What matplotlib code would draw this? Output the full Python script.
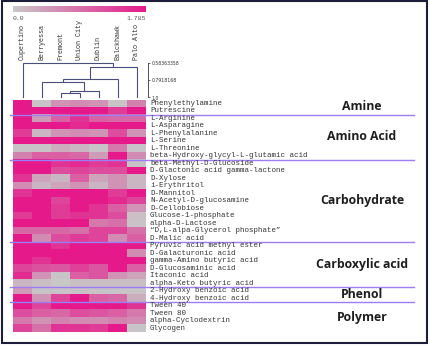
import numpy as np
import matplotlib
matplotlib.use("Agg")
import matplotlib.pyplot as plt
from matplotlib import transforms
from matplotlib.colors import LinearSegmentedColormap, Normalize
from matplotlib.cm import ScalarMappable
from matplotlib.patches import Rectangle
from matplotlib.lines import Line2D

sites = ["Cupertino", "Berryessa", "Fremont", "Union City", "Dublin", "Balckhawk", "Palo Alto"]

substrates = [
    "Phenylethylamine", "Putrescine",
    "L-Arginine", "L-Asparagine", "L-Phenylalanine", "L-Serine", "L-Threonine",
    "beta-Hydroxy-glycyl-L-glutamic acid",
    "beta-Methyl-D-Glucoside", "D-Glactonic acid gamma-lactone", "D-Xylose", "i-Erythritol",
    "D-Mannitol", "N-Acetyl-D-glucosamine", "D-Cellobiose", "Glucose-1-phosphate",
    "alpha-D-Lactose", "\u201cD,L-alpa-Glycerol phosphate\u201d", "D-Malic acid",
    "Pyruvic acid methyl ester", "D-Galacturonic acid", "gamma-Amino butyric acid",
    "D-Glucosaminic acid", "Itaconic acid", "alpha-Keto butyric acid",
    "2-Hydroxy benzoic acid", "4-Hydroxy benzoic acid",
    "Tween 40", "Tween 80", "alpha-Cyclodextrin", "Glycogen",
]

groups = ["Amine", "Amino Acid", "Carbohydrate", "Carboxylic acid", "Phenol", "Polymer"]
group_sizes = [2, 6, 11, 6, 2, 4]

# AWCD values per substrate (rows) and site (columns)
values = [
    [1.78, 0.05, 0.54, 0.62, 0.54, 0.05, 0.71],
    [1.78, 1.78, 1.78, 1.78, 1.78, 1.43, 1.78],
    [1.78, 0.45, 1.07, 1.52, 1.07, 0.98, 0.98],
    [1.78, 1.78, 1.78, 1.60, 1.78, 1.78, 1.78],
    [1.43, 0.18, 0.54, 0.62, 0.54, 1.25, 0.54],
    [1.78, 1.78, 1.78, 1.78, 1.78, 1.78, 1.78],
    [0.05, 0.05, 0.27, 0.18, 0.05, 0.80, 0.05],
    [0.71, 1.07, 1.07, 0.98, 0.45, 1.78, 0.62],
    [1.78, 1.78, 1.52, 1.60, 1.43, 1.52, 0.05],
    [1.78, 1.78, 1.25, 1.34, 1.25, 1.25, 1.78],
    [1.52, 0.36, 0.18, 1.07, 0.36, 0.54, 0.18],
    [0.62, 0.18, 0.36, 0.54, 0.18, 0.54, 0.18],
    [1.52, 1.78, 1.78, 1.78, 1.78, 1.43, 1.78],
    [1.78, 1.78, 1.34, 1.78, 1.78, 1.60, 1.34],
    [1.78, 1.78, 1.43, 1.78, 1.52, 1.07, 0.54],
    [1.43, 1.78, 1.43, 1.52, 1.52, 1.25, 0.09],
    [1.78, 1.78, 1.78, 1.78, 0.80, 0.89, 0.05],
    [0.98, 0.98, 0.98, 0.89, 1.34, 1.34, 0.89],
    [1.78, 0.62, 1.25, 1.43, 1.34, 0.62, 1.07],
    [1.78, 1.78, 1.52, 1.78, 1.78, 1.78, 1.78],
    [1.78, 1.78, 1.78, 1.78, 1.78, 1.78, 0.62],
    [1.78, 1.52, 1.78, 1.78, 1.78, 1.78, 1.78],
    [1.34, 1.20, 1.16, 1.38, 1.16, 1.78, 1.07],
    [1.60, 0.54, 0.05, 1.07, 1.16, 0.54, 0.36],
    [0.18, 0.09, 0.00, 0.09, 0.09, 0.09, 0.09],
    [0.45, 0.05, 0.05, 0.05, 0.05, 0.05, 0.05],
    [1.78, 0.54, 1.34, 1.78, 1.07, 0.98, 0.27],
    [1.78, 1.34, 1.78, 1.78, 1.78, 1.78, 1.52],
    [1.25, 1.07, 0.98, 1.25, 1.16, 1.07, 0.80],
    [0.80, 0.54, 0.71, 0.62, 0.62, 0.71, 0.62],
    [1.34, 0.89, 1.52, 1.52, 1.43, 1.78, 0.05],
]

# clustering of sites: (left node, right node, height); leaves 0..6, new nodes 7..
merges = [
    (2, 3, 0.948),
    (7, 4, 0.924),
    (1, 8, 0.814),
    (9, 5, 0.781),
    (10, 6, 0.636),
    (0, 11, 0.58363358),
]
dist_ticks = [0.58363358, 0.79181679, 1.0]
dist_labels = ["0.58363358", "0.7918168", "1.0"]
vmax = 1.785

W, H = 430, 346
fig = plt.figure(figsize=(W / 100, H / 100), dpi=100)

def fx(px):
    return px / W

def fy(py):
    return 1 - py / H

cmap = LinearSegmentedColormap.from_list("gp", ["#c8c8c8", "#e6198b"])
norm = Normalize(0, vmax)

# heatmap
ax = fig.add_axes([fx(13), fy(332), fx(146) - fx(13), fy(99.5) - fy(332)])
ax.imshow(np.array(values), cmap=cmap, norm=norm, aspect="auto", interpolation="nearest")
ax.set_axis_off()

mono = ["Liberation Mono", "DejaVu Sans Mono"]
row_tr = transforms.blended_transform_factory(fig.transFigure, ax.transData)
for i, name in enumerate(substrates):
    fig.text(fx(150), i, name, transform=row_tr, fontsize=5.45, family=mono,
             color="#333333", va="center", ha="left")

# group separators and titles
start = 0
for g, n in zip(groups, group_sizes):
    mid = start + (n - 1) / 2
    fig.text(fx(362), mid, g, transform=row_tr, fontsize=8.8, family="Open Sans",
             fontweight="bold", color="#1e1e1e", ha="center", va="center")
    start += n
    if start < len(substrates):
        fig.add_artist(Line2D([fx(10), fx(414)], [start - 0.5, start - 0.5],
                              transform=row_tr, color="#9d7cf4", lw=1.0))

# dendrogram
axd = fig.add_axes([fx(13), fy(97.5), fx(146) - fx(13), fy(62.7) - fy(97.5)])
axd.set_xlim(-0.5, len(sites) - 0.5)
axd.set_ylim(1.0, dist_ticks[0])
pos = {i: (float(i), 1.0) for i in range(len(sites))}
for k, (a, b, h) in enumerate(merges):
    xa, ha = pos[a]
    xb, hb = pos[b]
    axd.plot([xa, xa, xb, xb], [ha, h, h, hb], color="#4d4d7a", lw=0.8,
             clip_on=False, solid_joinstyle="miter")
    pos[len(sites) + k] = ((xa + xb) / 2, h)
for s in ["top", "bottom", "left"]:
    axd.spines[s].set_visible(False)
axd.spines["right"].set_position(("outward", 1.5))
axd.spines["right"].set_linewidth(0.6)
axd.spines["right"].set_color("#333333")
axd.set_xticks([])
axd.yaxis.tick_right()
axd.set_yticks(dist_ticks)
axd.set_yticklabels(dist_labels)
axd.tick_params(axis="y", labelsize=3.3, length=1.5, width=0.5, pad=1, colors="#333333")
axd.patch.set_visible(False)

col_tr = transforms.blended_transform_factory(axd.transData, fig.transFigure)
for i, s in enumerate(sites):
    fig.text(i, fy(59.5), s, transform=col_tr, rotation=90, fontsize=4.9,
             family=mono, color="#333333", ha="center", va="bottom")

# colour bar
cax = fig.add_axes([fx(13), fy(11.7), fx(146) - fx(13), fy(6) - fy(11.7)])
cb = fig.colorbar(ScalarMappable(norm=norm, cmap=cmap), cax=cax, orientation="horizontal")
cb.set_ticks([])
cb.outline.set_visible(False)
fig.text(fx(13), fy(18.5), "0.0", fontsize=4.6, family=mono, color="#555555",
         ha="left", va="center")
fig.text(fx(146), fy(18.5), "1.785", fontsize=4.6, family=mono, color="#555555",
         ha="right", va="center")

# frame
fig.add_artist(Rectangle((fx(2), fy(343)), fx(427) - fx(2), fy(0.6) - fy(343),
                         transform=fig.transFigure, fill=False, ec="#1d1d3a", lw=1.5))

fig.savefig("out.png", dpi=100)
